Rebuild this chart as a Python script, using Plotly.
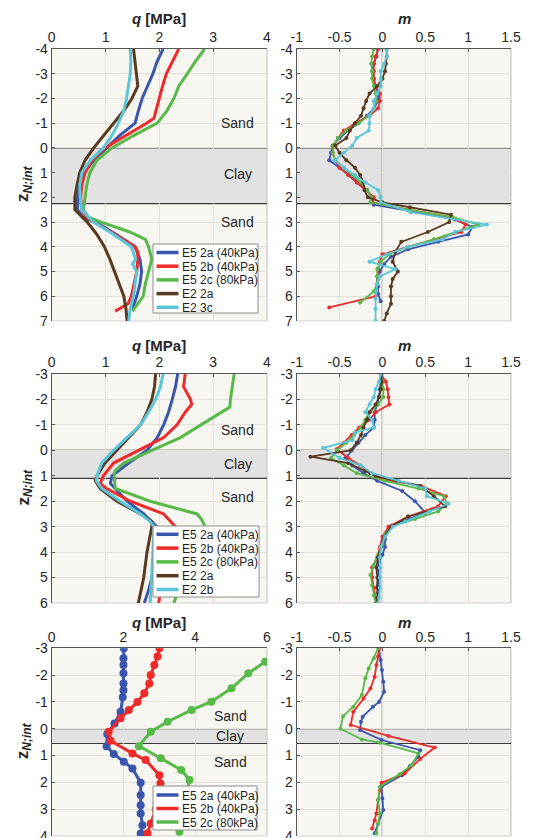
import plotly.graph_objects as go

W, H = 533, 838
FONT = "Liberation Sans, Arial, sans-serif"

# ---------------- colours ----------------
BLUE, RED, GREEN, BROWN, CYAN = "#3A55AE", "#EE2A2A", "#57B948", "#5A3A1E", "#5BC6DA"

# ---------------- labels ----------------
names_top = ["E5 2a (40kPa)", "E5 2b (40kPa)", "E5 2c (80kPa)", "E2 2a", "E2 3c"]
names_mid = ["E5 2a (40kPa)", "E5 2b (40kPa)", "E5 2c (80kPa)", "E2 2a", "E2 2b"]
names_bot = ["E5 2a (40kPa)", "E5 2b (40kPa)", "E5 2c (80kPa)"]
q_ticks_a = [0, 1, 2, 3, 4]
q_ticks_b = [0, 2, 4, 6]
m_ticks = [-1, -0.5, 0, 0.5, 1, 1.5]
m_ticktext = ["-1", "-0.5", "0", "0.5", "1", "1.5"]
z_ticks_top = list(range(-4, 8))
z_ticks_mid = list(range(-3, 7))
z_ticks_bot = list(range(-3, 5))
clay_bottom = [2.25, 1.1, 0.55]

# ================= TOP ROW =================
# q profiles
t_q_blue_z = [-4, -3.5, -3, -2.5, -2, -1.5, -1, -0.5, 0, 0.5, 1, 1.5, 2, 2.5, 2.8, 3, 3.5, 4, 4.5, 5, 5.5, 6, 6.5]
t_q_blue = [2.07, 1.96, 1.88, 1.78, 1.68, 1.61, 1.55, 1.26, 1.02, 0.78, 0.6, 0.52, 0.48, 0.48, 0.58, 0.82, 1.2, 1.55, 1.64, 1.67, 1.64, 1.58, 1.5]
t_q_red_z = [-4, -3.5, -3, -2.5, -2, -1.5, -1.2, -1, -0.5, 0, 0.5, 1, 1.5, 2, 2.5, 2.8, 3, 3.5, 4, 4.2, 4.5, 5, 5.5, 6, 6.3, 6.6]
t_q_red = [2.36, 2.24, 2.13, 2.06, 2.0, 1.95, 1.9, 1.76, 1.37, 0.99, 0.75, 0.62, 0.56, 0.54, 0.56, 0.65, 0.78, 1.18, 1.55, 1.6, 1.6, 1.58, 1.53, 1.48, 1.42, 1.18]
t_q_green_z = [-4, -3.5, -3, -2.5, -2, -1.5, -1, -0.5, 0, 0.5, 1, 1.5, 2, 2.5, 2.8, 3, 3.4, 3.7, 4, 4.5, 5, 5.5, 6, 6.3, 6.6]
t_q_green = [2.84, 2.67, 2.52, 2.36, 2.27, 2.14, 1.96, 1.52, 1.12, 0.84, 0.71, 0.65, 0.62, 0.59, 0.68, 0.92, 1.45, 1.74, 1.8, 1.86, 1.8, 1.74, 1.7, 1.6, 1.5]
t_q_brown_z = [-4, -3.5, -3, -2.5, -2, -1.5, -1, -0.5, 0, 0.5, 1, 1.5, 2, 2.5, 3, 3.5, 4, 4.5, 5, 5.5, 6, 6.5, 7]
t_q_brown = [1.52, 1.55, 1.58, 1.6, 1.49, 1.34, 1.15, 0.96, 0.78, 0.62, 0.52, 0.47, 0.43, 0.43, 0.66, 0.84, 0.98, 1.08, 1.17, 1.26, 1.34, 1.38, 1.40]
t_q_cyan_z = [-4, -3.5, -3, -2.5, -2, -1.5, -1, -0.5, 0, 0.5, 1, 1.5, 2, 2.5, 3, 3.5, 4, 4.5, 4.7, 5, 5.5, 6, 6.5, 7]
t_q_cyan = [1.46, 1.47, 1.46, 1.43, 1.39, 1.34, 1.24, 1.12, 0.96, 0.72, 0.56, 0.52, 0.53, 0.56, 0.78, 1.15, 1.48, 1.56, 1.5, 1.58, 1.55, 1.52, 1.46, 1.43]

# m profiles
t_m_blue_z = [-4, -3.7, -3.4, -3.1, -2.8, -2.5, -2.2, -1.9, -1.6, -1.3, -1.0, -0.7, -0.4, -0.1, 0.2, 0.5, 0.8, 1.1, 1.4, 1.7, 2.0, 2.3, 2.6, 2.9, 3.2, 3.5, 3.8, 4.1, 4.4, 4.7, 5.0, 5.3, 5.6, 5.9, 6.2]
t_m_blue = [-0.05, -0.07, -0.1, -0.12, -0.1, -0.08, -0.05, -0.05, -0.1, -0.18, -0.28, -0.4, -0.5, -0.58, -0.6, -0.62, -0.5, -0.38, -0.28, -0.18, -0.12, -0.1, 0.4, 0.85, 1.05, 1.0, 0.65, 0.3, 0.1, 0.02, -0.03, -0.05, -0.05, -0.05, -0.02]
t_m_red_z = [-4, -3.7, -3.4, -3.1, -2.8, -2.5, -2.2, -1.9, -1.6, -1.3, -1.0, -0.7, -0.4, -0.1, 0.2, 0.5, 0.8, 1.1, 1.4, 1.7, 2.0, 2.2, 2.5, 2.8, 3.1, 3.4, 3.7, 4.0, 4.3, 4.6, 4.9, 5.2, 5.5, 5.8, 6.0, 6.45]
t_m_red = [-0.05, -0.08, -0.1, -0.1, -0.1, -0.08, -0.03, -0.03, -0.05, -0.15, -0.32, -0.45, -0.52, -0.57, -0.58, -0.55, -0.5, -0.4, -0.3, -0.2, -0.1, -0.12, 0.3, 0.8, 0.97, 0.92, 0.6, 0.3, 0.0, -0.03, -0.05, -0.06, -0.06, -0.07, -0.08, -0.62]
t_m_green_z = [-4, -3.7, -3.4, -3.1, -2.8, -2.5, -2.2, -1.9, -1.6, -1.3, -1.0, -0.7, -0.4, -0.1, 0.2, 0.5, 0.8, 1.1, 1.4, 1.7, 2.0, 2.2, 2.5, 2.8, 3.1, 3.4, 3.7, 4.0, 4.3, 4.6, 4.9, 5.2, 5.5, 5.8, 6.25]
t_m_green = [-0.1, -0.12, -0.13, -0.12, -0.12, -0.1, -0.08, -0.07, -0.1, -0.16, -0.28, -0.42, -0.52, -0.57, -0.58, -0.55, -0.45, -0.35, -0.25, -0.18, -0.13, -0.14, 0.3, 0.82, 1.12, 0.85, 0.6, 0.3, 0.08, -0.02, -0.06, -0.06, -0.06, -0.1, -0.26]
t_m_brown_z = [-4, -3.7, -3.4, -3.1, -2.8, -2.5, -2.2, -1.9, -1.6, -1.3, -1.0, -0.7, -0.4, -0.1, 0.2, 0.5, 0.8, 1.1, 1.4, 1.7, 2.0, 2.2, 2.4, 2.7, 3.0, 3.4, 3.8, 4.2, 4.6, 5.0, 5.3, 5.6, 6.0, 6.3, 6.7, 7.0]
t_m_brown = [0.05, 0.05, 0.04, 0.03, 0.0, -0.06, -0.15, -0.19, -0.22, -0.25, -0.32, -0.38, -0.42, -0.55, -0.5, -0.42, -0.32, -0.26, -0.22, -0.21, -0.17, 0.0, 0.32, 0.8, 0.78, 0.53, 0.22, 0.15, 0.12, 0.18, 0.12, 0.1, 0.1, 0.1, 0.05, 0.02]
t_m_cyan_z = [-4, -3.7, -3.4, -3.1, -2.8, -2.5, -2.2, -1.9, -1.6, -1.3, -1.0, -0.7, -0.4, -0.1, 0.2, 0.5, 0.8, 1.1, 1.4, 1.7, 2.0, 2.2, 2.6, 3.1, 3.4, 3.7, 4.0, 4.3, 4.6, 4.9, 5.2, 5.5, 5.8, 6.1, 6.5, 7.0]
t_m_cyan = [0.05, 0.05, 0.02, -0.02, -0.02, -0.02, -0.06, -0.1, -0.1, -0.15, -0.15, -0.16, -0.3, -0.35, -0.45, -0.56, -0.45, -0.32, -0.2, -0.05, -0.02, -0.02, 0.33, 1.22, 0.85, 0.7, 0.3, 0.05, -0.15, 0.15, -0.03, -0.06, -0.07, -0.08, -0.08, -0.08]

# ================= MIDDLE ROW =================
m_q_blue_z = [-3, -2.5, -2, -1.5, -1, -0.5, 0, 0.5, 1, 1.3, 1.5, 2, 2.5, 3, 3.5, 4, 4.5, 5, 5.5, 6]
m_q_blue = [2.34, 2.3, 2.24, 2.17, 2.08, 1.96, 1.77, 1.43, 1.12, 1.09, 1.18, 1.4, 1.71, 1.95, 1.96, 1.95, 1.92, 1.86, 1.8, 1.72]
m_q_red_z = [-3, -2.5, -2, -1.8, -1.5, -1, -0.5, 0, 0.5, 1, 1.3, 1.5, 2, 2.5, 3, 3.5, 4, 4.5, 5, 5.5, 6]
m_q_red = [2.48, 2.45, 2.58, 2.6, 2.48, 2.33, 2.08, 1.61, 1.15, 0.96, 0.9, 1.02, 1.46, 2.08, 2.3, 2.25, 2.2, 2.15, 2.08, 2.02, 1.99]
m_q_green_z = [-3, -2.5, -2, -1.7, -1, -0.5, 0, 0.5, 0.8, 1, 1.5, 2, 2.5, 2.7, 3, 3.5, 4, 4.5, 5, 5.5, 6]
m_q_green = [3.39, 3.35, 3.32, 3.31, 2.76, 2.39, 1.86, 1.34, 1.18, 1.16, 1.18, 1.83, 2.7, 2.78, 2.85, 2.75, 2.65, 2.55, 2.45, 2.35, 2.27]
m_q_brown_z = [-3, -2.5, -2, -1.5, -1, -0.5, 0, 0.5, 1, 1.2, 1.5, 2, 2.5, 2.8, 3, 4, 5, 6]
m_q_brown = [1.93, 1.91, 1.86, 1.77, 1.65, 1.43, 1.21, 0.99, 0.84, 0.81, 0.9, 1.21, 1.65, 1.86, 1.86, 1.77, 1.71, 1.61]
m_q_cyan_z = [-3, -2.5, -2, -1.5, -1, -0.5, 0, 0.5, 1, 1.2, 1.5, 2, 2.5, 2.8, 3, 4, 5, 6]
m_q_cyan = [2.07, 2.02, 1.93, 1.8, 1.65, 1.4, 1.15, 0.93, 0.84, 0.83, 0.93, 1.27, 1.65, 1.83, 1.9, 1.88, 1.85, 1.83]

m_m_blue_z = [-3, -2.7, -2.4, -2.1, -1.8, -1.5, -1.2, -0.9, -0.6, -0.3, 0, 0.3, 0.6, 0.9, 1.2, 1.6, 2.0, 2.45, 2.95, 3.2, 3.5, 3.8, 4.1, 4.4, 4.7, 5.0, 5.3, 5.6, 6.0]
m_m_blue = [-0.02, -0.02, -0.03, -0.04, -0.06, -0.09, -0.09, -0.1, -0.2, -0.28, -0.36, -0.43, -0.35, -0.22, -0.06, 0.23, 0.38, 0.5, 0.11, 0.06, 0.03, 0.03, 0.0, -0.04, -0.05, -0.05, -0.05, -0.05, -0.06]
m_m_red_z = [-3, -2.7, -2.4, -2.1, -1.8, -1.5, -1.2, -0.9, -0.6, -0.3, -0.05, 0.3, 0.6, 0.9, 1.1, 1.4, 1.8, 2.2, 2.6, 3.0, 3.4, 3.8, 4.2, 4.6, 5.0, 5.4, 5.8, 6.0]
m_m_red = [-0.02, 0.04, 0.06, 0.07, 0.08, -0.08, -0.15, -0.27, -0.36, -0.45, -0.53, -0.4, -0.26, -0.14, -0.05, 0.45, 0.74, 0.65, 0.3, 0.07, 0.0, -0.03, -0.06, -0.12, -0.12, -0.1, -0.08, -0.07]
m_m_green_z = [-3, -2.7, -2.4, -2.1, -1.8, -1.5, -1.2, -0.9, -0.6, -0.3, 0, 0.3, 0.6, 0.9, 1.2, 1.5, 1.8, 2.1, 2.4, 2.7, 3.0, 3.3, 3.7, 4.1, 4.5, 4.9, 5.3, 5.7, 6.0]
m_m_green = [-0.02, 0.0, 0.01, 0.01, -0.05, -0.15, -0.2, -0.25, -0.33, -0.42, -0.53, -0.6, -0.45, -0.3, 0.03, 0.42, 0.72, 0.75, 0.65, 0.38, 0.1, 0.03, 0.0, -0.05, -0.1, -0.14, -0.12, -0.1, -0.08]
m_m_brown_z = [-3, -2.7, -2.4, -2.1, -1.8, -1.5, -1.2, -0.9, -0.6, -0.3, 0.0, 0.25, 0.5, 0.8, 1.0, 1.2, 1.4, 1.8, 2.2, 2.6, 3.0, 3.4, 3.8, 4.2, 4.6, 5.0, 5.4, 5.8, 6.0]
m_m_brown = [-0.01, -0.01, -0.02, -0.04, -0.08, -0.15, -0.18, -0.22, -0.25, -0.3, -0.37, -0.84, -0.4, -0.2, -0.08, 0.17, 0.44, 0.6, 0.73, 0.3, 0.1, 0.02, -0.02, -0.05, -0.07, -0.06, -0.06, -0.06, -0.06]
m_m_cyan_z = [-3, -2.7, -2.4, -2.1, -1.8, -1.5, -1.2, -0.9, -0.7, -0.4, -0.1, 0.3, 0.6, 0.9, 1.2, 1.5, 1.8, 2.1, 2.4, 2.8, 3.0, 3.4, 3.8, 4.2, 4.6, 5.0, 5.4, 5.8, 6.0]
m_m_cyan = [-0.02, -0.04, -0.08, -0.1, -0.15, -0.2, -0.12, -0.1, -0.32, -0.35, -0.69, -0.5, -0.25, -0.12, 0.19, 0.5, 0.52, 0.77, 0.55, 0.27, 0.12, 0.03, -0.02, -0.03, -0.03, -0.03, -0.03, -0.04, -0.05]

# ================= BOTTOM ROW =================
b_q_blue_z = [-3, -2.63, -2.38, -2.07, -1.69, -1.44, -1.17, -0.63, -0.2, 0.2, 0.65, 0.94, 1.23, 1.48, 2.01, 2.47, 2.85, 3.16, 3.6, 3.91]
b_q_blue = [2.01, 2.0, 2.0, 2.0, 2.0, 2.0, 1.98, 1.92, 1.75, 1.55, 1.53, 1.73, 2.01, 2.25, 2.48, 2.48, 2.48, 2.48, 2.53, 2.48]
b_q_red_z = [-3, -2.69, -2.38, -2.0, -1.69, -1.32, -1.0, -0.7, -0.39, 0.11, 0.45, 0.92, 1.17, 1.73, 2.04, 2.5, 3.0, 3.53, 3.9]
b_q_red = [3.0, 2.95, 2.86, 2.76, 2.72, 2.58, 2.39, 2.15, 1.92, 1.59, 1.64, 2.25, 2.62, 3.0, 3.03, 3.0, 2.9, 2.76, 2.67]
b_q_green_z = [-3.0, -2.5, -2.07, -1.51, -1.01, -0.7, -0.26, 0.11, 0.65, 1.1, 1.54, 1.91, 2.4, 2.9, 3.4, 3.84]
b_q_green = [6.5, 5.95, 5.48, 5.01, 4.45, 3.9, 3.23, 2.76, 2.43, 3.04, 3.61, 3.84, 3.78, 3.7, 3.62, 3.56]

b_m_blue_z = [-3.0, -2.56, -2.19, -1.75, -1.38, -1.0, -0.82, -0.45, -0.26, 0.05, 0.42, 0.8, 1.04, 1.4, 1.73, 2.16, 2.6, 3.03, 3.53, 3.9]
b_m_blue = [-0.04, -0.02, -0.005, 0.01, 0.02, -0.04, -0.11, -0.23, -0.25, -0.26, -0.01, 0.44, 0.42, 0.32, 0.23, -0.01, 0.0, 0.01, -0.05, -0.09]
b_m_red_z = [-3.0, -2.69, -2.38, -1.94, -1.5, -1.13, -0.63, -0.14, 0.27, 0.7, 1.13, 1.67, 2.01, 2.29, 2.66, 3.16, 3.41, 3.72]
b_m_red = [-0.04, -0.05, -0.07, -0.09, -0.14, -0.22, -0.34, -0.37, 0.07, 0.61, 0.44, 0.26, -0.01, -0.03, -0.05, -0.07, -0.09, -0.12]
b_m_green_z = [-3.0, -2.63, -2.25, -1.88, -1.26, -0.82, -0.47, 0.0, 0.4, 0.52, 0.92, 1.36, 1.7, 2.16, 2.66, 3.16, 3.53, 3.9]
b_m_green = [-0.05, -0.1, -0.16, -0.2, -0.24, -0.34, -0.46, -0.49, -0.24, -0.03, 0.42, 0.34, 0.2, -0.03, -0.05, -0.03, -0.05, -0.07]

# ---------------- layout geometry (pixels) ----------------
XL = (51.7, 267.0)
XR = (296.7, 511.0)
ROWS = [(49.0, 321.0), (374.0, 603.0), (648.3, 836.0)]


def px_x(x):
    return x / W


def px_y(y):
    return 1 - y / H


PLOT_BG = "#F7F6F1"
GRID = "#E4E1DA"
AXC = "#555555"
TICKFONT = dict(family=FONT, size=14, color="#262626")

fig = go.Figure()
layout = dict(
    width=W, height=H, margin=dict(l=0, r=0, t=0, b=0, pad=0, autoexpand=False),
    paper_bgcolor="white", plot_bgcolor=PLOT_BG, showlegend=False,
    font=dict(family=FONT, color="#262626"),
)

q_ranges = [[0, 4], [0, 4], [0, 6]]
q_tickvals = [q_ticks_a, q_ticks_a, q_ticks_b]
z_ranges = [[7, -4], [6, -3], [4, -3]]
z_tickvals = [z_ticks_top, z_ticks_mid, z_ticks_bot]

shapes = []
annotations = []

for r in range(3):
    y0, y1 = ROWS[r]
    ydom = [px_y(y1), px_y(y0)]
    for c in range(2):
        k = r * 2 + c + 1
        xs = "" if k == 1 else str(k)
        xd = XL if c == 0 else XR
        if c == 0:
            tv, tt, rng = q_tickvals[r], [str(v) for v in q_tickvals[r]], q_ranges[r]
        else:
            tv, tt, rng = m_ticks, m_ticktext, [-1, 1.5]
        layout["xaxis" + xs] = dict(
            domain=[px_x(xd[0]), px_x(xd[1])], range=rng, side="top", anchor="y" + xs,
            tickvals=tv, ticktext=tt, showgrid=True, gridcolor=GRID, gridwidth=1,
            zeroline=False, showline=True, linecolor=AXC, linewidth=1, mirror=False,
            ticks="inside", ticklen=3, tickcolor=AXC, tickfont=TICKFONT, fixedrange=True,
            automargin=False, ticklabeloverflow="allow",
        )
        layout["yaxis" + xs] = dict(
            domain=ydom, range=z_ranges[r], anchor="x" + xs,
            tickvals=z_tickvals[r], ticktext=[str(v) for v in z_tickvals[r]],
            showgrid=True, gridcolor=GRID, gridwidth=1, zeroline=False,
            showline=True, linecolor=AXC, linewidth=1, mirror=False,
            ticks="inside", ticklen=3, tickcolor=AXC, tickfont=TICKFONT, fixedrange=True,
            automargin=False, ticklabeloverflow="allow",
        )
        xr = "x" + xs
        yr = "y" + xs
        # clay band
        shapes.append(dict(type="rect", xref=xr + " domain", yref=yr, x0=0, x1=1,
                           y0=0, y1=clay_bottom[r], fillcolor="#E2E2E2",
                           line=dict(width=0), layer="below"))
        # light right / bottom frame
        shapes.append(dict(type="line", xref=xr + " domain", yref=yr + " domain",
                           x0=1, x1=1, y0=0, y1=1, line=dict(color="#BDBDBD", width=1), layer="below"))
        shapes.append(dict(type="line", xref=xr + " domain", yref=yr + " domain",
                           x0=0, x1=1, y0=0, y1=0, line=dict(color="#D0D0D0", width=1), layer="below"))
        # boundary lines
        for yb in (0, clay_bottom[r]):
            shapes.append(dict(type="line", xref=xr + " domain", yref=yr, x0=0, x1=1,
                               y0=yb, y1=yb, line=dict(color="#3A3A3A", width=1.2), layer="below"))
        if c == 1:
            shapes.append(dict(type="line", xref=xr, yref=yr + " domain", x0=0, x1=0,
                               y0=0, y1=1, line=dict(color="#111111", width=1.2), layer="below"))
        # titles
        xc = (xd[0] + xd[1]) / 2
        ty = [18, 345, 622][r]
        annotations.append(dict(
            xref="paper", yref="paper", x=px_x(xc + (1 if c else 0)), y=px_y(ty),
            text="<b><i>q</i> [MPa]</b>" if c == 0 else "<b><i>m</i></b>",
            showarrow=False, xanchor="center", yanchor="middle",
            font=dict(family=FONT, size=15, color="#262626")))
    # z-axis label
    annotations.append(dict(
        xref="paper", yref="paper", x=px_x(24), y=px_y((y0 + y1) / 2 - 1),
        text="<b>z<sub><i>N;int</i></sub></b>", textangle=-90, showarrow=False,
        xanchor="center", yanchor="middle", font=dict(family=FONT, size=17, color="#262626")))

# --------------- traces ---------------
def add_line(x, z, color, k, width, msize=0):
    xs = "" if k == 1 else str(k)
    fig.add_trace(go.Scatter(
        x=x, y=z, xaxis="x" + xs, yaxis="y" + xs,
        mode="lines+markers" if msize else "lines",
        line=dict(color=color, width=width),
        marker=dict(size=msize, color=color) if msize else None,
        hoverinfo="skip"))


top_q = [(t_q_blue, t_q_blue_z), (t_q_red, t_q_red_z), (t_q_green, t_q_green_z),
         (t_q_brown, t_q_brown_z), (t_q_cyan, t_q_cyan_z)]
top_m = [(t_m_blue, t_m_blue_z), (t_m_red, t_m_red_z), (t_m_green, t_m_green_z),
         (t_m_brown, t_m_brown_z), (t_m_cyan, t_m_cyan_z)]
mid_q = [(m_q_blue, m_q_blue_z), (m_q_red, m_q_red_z), (m_q_green, m_q_green_z),
         (m_q_brown, m_q_brown_z), (m_q_cyan, m_q_cyan_z)]
mid_m = [(m_m_blue, m_m_blue_z), (m_m_red, m_m_red_z), (m_m_green, m_m_green_z),
         (m_m_brown, m_m_brown_z), (m_m_cyan, m_m_cyan_z)]
bot_q = [(b_q_blue, b_q_blue_z), (b_q_red, b_q_red_z), (b_q_green, b_q_green_z)]
bot_m = [(b_m_blue, b_m_blue_z), (b_m_red, b_m_red_z), (b_m_green, b_m_green_z)]
colors = [BLUE, RED, GREEN, BROWN, CYAN]

for i, (x, z) in enumerate(top_q):
    add_line(x, z, colors[i], 1, 3)
for i, (x, z) in enumerate(top_m):
    add_line(x, z, colors[i], 2, 1.8, 4)
for i, (x, z) in enumerate(mid_q):
    add_line(x, z, colors[i], 3, 3)
for i, (x, z) in enumerate(mid_m):
    add_line(x, z, colors[i], 4, 1.8, 4)
for i, (x, z) in enumerate(bot_q):
    add_line(x, z, colors[i], 5, 3, 8)
for i, (x, z) in enumerate(bot_m):
    add_line(x, z, colors[i], 6, 1.8, 4)

# --------------- soil labels ---------------
soil_labels = [("Sand", -1.0), ("Clay", 1.05), ("Sand", 3.0)]
soil_labels_mid = [("Sand", -0.79), ("Clay", 0.52), ("Sand", 1.83)]
soil_labels_bot = [("Sand", -0.49), ("Clay", 0.27), ("Sand", 1.23)]
for (txt, z), k, xq in ([(s, 1, 3.46) for s in soil_labels] +
                        [(s, 3, 3.46) for s in soil_labels_mid] +
                        [(s, 5, 4.98) for s in soil_labels_bot]):
    xs = "" if k == 1 else str(k)
    annotations.append(dict(xref="x" + xs, yref="y" + xs, x=xq, y=z, text=txt,
                            showarrow=False, xanchor="center", yanchor="middle",
                            font=dict(family=FONT, size=14, color="#262626")))

# --------------- legends (drawn boxes) ---------------
def legend_box(names, box, first_y, dy):
    x0, x1, yt, yb = box
    shapes.append(dict(type="rect", xref="paper", yref="paper", x0=px_x(x0), x1=px_x(x1),
                       y0=px_y(yb), y1=px_y(yt), fillcolor="white",
                       line=dict(color="#8C8C8C", width=1), layer="above"))
    for i, nm in enumerate(names):
        y = first_y + dy * i
        shapes.append(dict(type="line", xref="paper", yref="paper", x0=px_x(156.5), x1=px_x(178.5),
                           y0=px_y(y), y1=px_y(y), line=dict(color=colors[i], width=3.5), layer="above"))
        annotations.append(dict(xref="paper", yref="paper", x=px_x(180), y=px_y(y + 0.5), text=nm,
                                showarrow=False, xanchor="left", yanchor="middle",
                                font=dict(family=FONT, size=12, color="#1E1E1E")))


legend_box(names_top, (153, 258, 244, 313), 252.5, 13.7)
legend_box(names_mid, (153, 259, 526, 597), 534.3, 13.8)
legend_box(names_bot, (153, 257, 786, 830), 795.0, 13.5)

layout["shapes"] = shapes
layout["annotations"] = annotations
fig.update_layout(**layout)
fig.write_html("out.html", config={"displayModeBar": False, "staticPlot": True},
               post_script="document.body.style.margin='0';document.body.style.overflow='hidden';")
